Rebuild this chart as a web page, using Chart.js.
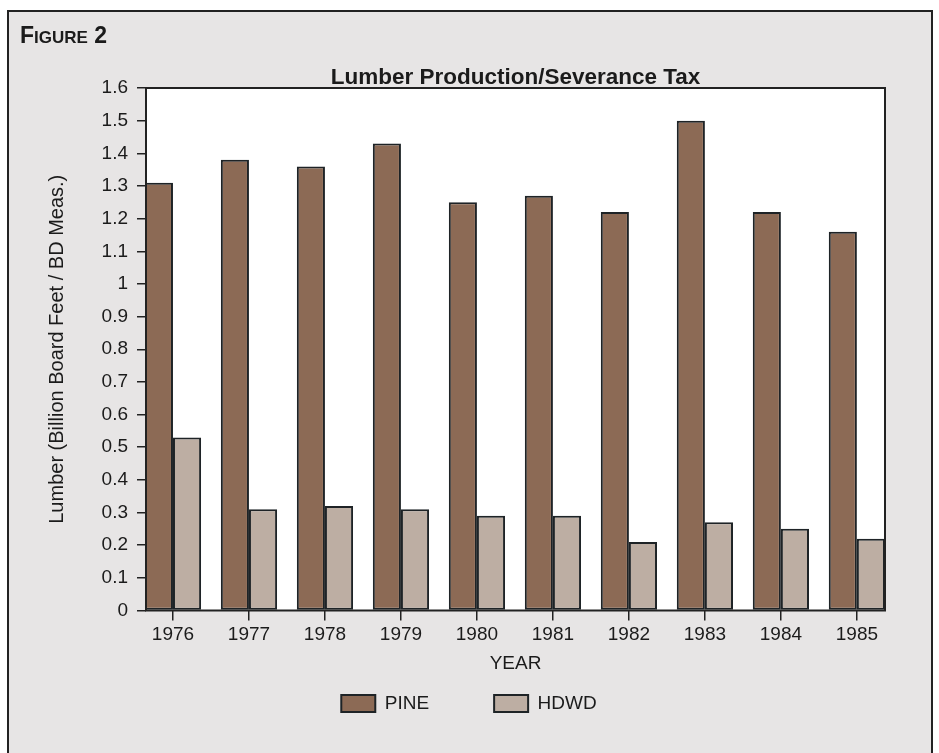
<!DOCTYPE html>
<html>
<head>
<meta charset="utf-8">
<script src="https://cdn.jsdelivr.net/npm/chart.js@4"></script>
<style>
  html, body { margin: 0; padding: 0; background: #fff; }
  #wrap { width: 939px; height: 753px; position: relative; }
</style>
</head>
<body>
<div id="wrap"><canvas id="lumberChart"></canvas></div>
<script>
// --- DATA ---
const years = ['1976', '1977', '1978', '1979', '1980', '1981', '1982', '1983', '1984', '1985'];
const pine = [1.31, 1.38, 1.36, 1.43, 1.25, 1.27, 1.22, 1.50, 1.22, 1.16];
const hdwd = [0.53, 0.31, 0.32, 0.31, 0.29, 0.29, 0.21, 0.27, 0.25, 0.22];
const yTickLabels = ['0', '0.1', '0.2', '0.3', '0.4', '0.5', '0.6', '0.7', '0.8', '0.9',
                     '1', '1.1', '1.2', '1.3', '1.4', '1.5', '1.6'];

const FONT = "'Liberation Sans', Arial, Helvetica, sans-serif";
const INK = '#1b1b1b';

// frame, figure label and plot box
const framePlugin = {
    id: 'frame',
    beforeDraw(chart) {
        const c = chart.ctx;
        const {left, top, right, bottom} = chart.chartArea;
        c.save();
        c.fillStyle = '#ffffff';
        c.fillRect(0, 0, chart.width, chart.height);
        c.fillStyle = '#e7e5e5';
        c.fillRect(8, 11, 924, chart.height - 11);
        c.strokeStyle = '#222';
        c.lineWidth = 2;
        c.beginPath();
        c.moveTo(8, chart.height);
        c.lineTo(8, 11);
        c.lineTo(932, 11);
        c.lineTo(932, chart.height);
        c.stroke();

        // "FIGURE 2" in small caps
        c.fillStyle = INK;
        c.textBaseline = 'alphabetic';
        let x = 20;
        const parts = [['F', 23], ['IGURE', 17], [' 2', 23]];
        parts.forEach(([t, size]) => {
            c.font = 'bold ' + size + 'px ' + FONT;
            c.fillText(t, x, 43);
            x += c.measureText(t).width;
        });

        c.fillStyle = '#ffffff';
        c.fillRect(left, top, right - left, bottom - top);
        c.restore();
    },
    afterDatasetsDraw(chart) {
        const c = chart.ctx;
        const {left, top, right, bottom} = chart.chartArea;
        c.save();
        c.strokeStyle = '#222';
        c.lineWidth = 2;
        c.strokeRect(left, top, right - left, bottom - top);
        c.restore();
    }
};

const ctx = document.getElementById('lumberChart').getContext('2d');

new Chart(ctx, {
    type: 'bar',
    data: {
        datasets: [
            {
                label: 'PINE',
                data: pine.map((v, i) => ({x: i, y: v})),
                backgroundColor: '#8c6a55',
                borderColor: '#1e2326',
                borderWidth: 2,
                borderSkipped: false
            },
            {
                label: 'HDWD',
                data: hdwd.map((v, i) => ({x: i, y: v})),
                backgroundColor: '#bdaea3',
                borderColor: '#1e2326',
                borderWidth: 2,
                borderSkipped: false
            }
        ]
    },
    options: {
        responsive: true,
        maintainAspectRatio: false,
        animation: false,
        categoryPercentage: 0.74,
        barPercentage: 1.0,
        layout: { padding: { left: 53, right: 54, top: 62, bottom: 30 } },
        scales: {
            x: {
                type: 'linear',
                min: -0.355,
                max: 9.37,
                offset: false,
                grid: {
                    offset: false,
                    drawOnChartArea: false,
                    drawTicks: true,
                    tickLength: 10,
                    color: '#222',
                    lineWidth: 1.5
                },
                border: { display: false },
                ticks: {
                    stepSize: 1,
                    includeBounds: false,
                    autoSkip: false,
                    maxRotation: 0,
                    padding: 3,
                    color: INK,
                    font: { family: FONT, size: 19 },
                    callback: (v) => years[v] ?? ''
                },
                title: {
                    display: true,
                    text: 'YEAR',
                    color: INK,
                    font: { family: FONT, size: 19 },
                    padding: { top: 2.8, bottom: 0 }
                }
            },
            y: {
                min: 0,
                max: 1.6,
                grid: {
                    drawOnChartArea: false,
                    drawTicks: true,
                    tickLength: 9,
                    color: '#222',
                    lineWidth: 1.5
                },
                border: { display: false },
                ticks: {
                    stepSize: 0.1,
                    padding: 9,
                    color: INK,
                    font: { family: FONT, size: 19 },
                    callback: (v, i) => yTickLabels[i]
                },
                title: {
                    display: true,
                    text: 'Lumber (Billion Board Feet / BD Meas.)',
                    color: INK,
                    font: { family: FONT, size: 20 },
                    padding: { top: -7.5, bottom: 0 }
                },
                afterFit: (scale) => { scale.width = 93; }
            }
        },
        plugins: {
            title: {
                display: true,
                fullSize: false,
                text: 'Lumber Production/Severance Tax',
                color: INK,
                font: { family: FONT, size: 22.5, weight: 'bold' },
                padding: { top: 2.5, bottom: -3.5 }
            },
            legend: {
                position: 'bottom',
                // empty title with negative padding pulls the items up under "YEAR"
                title: {
                    display: true,
                    text: '',
                    font: { family: FONT, size: 12 },
                    padding: { top: 0, bottom: -60.3 }
                },
                labels: {
                    boxWidth: 34,
                    boxHeight: 17,
                    padding: 65,
                    color: INK,
                    font: { family: FONT, size: 19 }
                }
            },
            tooltip: { enabled: false }
        }
    },
    plugins: [framePlugin]
});
</script>
</body>
</html>
